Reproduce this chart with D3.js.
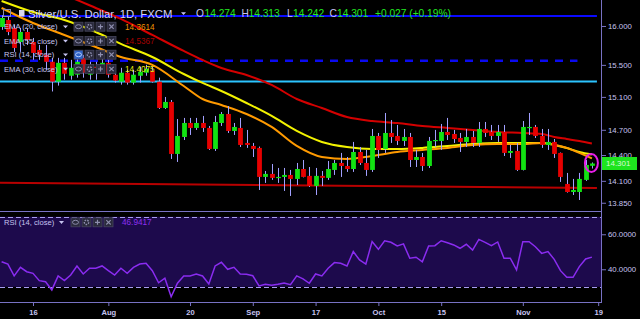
<!DOCTYPE html>
<html>
<head>
<meta charset="utf-8">
<script src="https://cdn.jsdelivr.net/npm/d3@7"></script>
<style>
  body { margin: 0; background: #000; }
  svg { display: block; }
  text { font-family: "Liberation Sans", Arial, sans-serif; }
</style>
</head>
<body>
<svg id="chart" width="640" height="319"></svg>
<script>
/* DATA (daily bars, 9 Jul 2018 - 16 Nov 2018) */
const opens = [15.987,16.078,15.974,15.792,15.922,15.792,15.690,15.627,15.539,15.289,
  15.526,15.363,15.376,15.589,15.376,15.476,15.463,15.526,15.376,15.289,
  15.401,15.277,15.363,15.401,15.426,15.289,14.964,15.038,14.413,14.614,
  14.782,14.722,14.782,14.722,14.472,14.782,14.891,14.686,14.722,14.543,
  14.507,14.484,14.145,14.180,14.134,14.145,14.168,14.122,14.237,14.157,
  14.041,14.157,14.134,14.226,14.307,14.272,14.237,14.436,14.307,14.226,
  14.626,14.472,14.662,14.626,14.567,14.614,14.342,14.377,14.272,14.567,
  14.567,14.674,14.650,14.602,14.555,14.614,14.543,14.710,14.674,14.626,
  14.674,14.425,14.448,14.226,14.722,14.734,14.626,14.519,14.555,14.425,
  14.064,13.972,13.972,14.111,14.274];
const highs = [16.140,16.120,16.010,15.974,15.970,15.844,15.754,15.754,15.589,15.589,
  15.589,15.564,15.589,15.627,15.539,15.539,15.627,15.564,15.438,15.463,
  15.438,15.438,15.476,15.501,15.476,15.339,15.099,15.062,14.830,14.843,
  14.843,14.843,14.867,14.746,14.867,14.915,14.988,14.782,14.843,14.698,
  14.543,14.500,14.214,14.295,14.249,14.249,14.226,14.307,14.342,14.260,
  14.249,14.214,14.330,14.342,14.425,14.377,14.555,14.495,14.460,14.710,
  14.662,14.903,14.818,14.758,14.710,14.662,14.460,14.425,14.614,14.698,
  14.770,14.843,14.698,14.662,14.710,14.686,14.794,14.794,14.758,14.758,
  14.758,14.519,14.543,14.806,14.903,14.758,14.710,14.710,14.590,14.430,
  14.191,14.122,14.191,14.342,14.313];
const lows = [15.950,15.880,15.665,15.665,15.754,15.564,15.564,15.438,15.167,15.240,
  15.314,15.314,15.339,15.339,15.314,15.314,15.413,15.339,15.277,15.252,
  15.252,15.252,15.277,15.363,15.277,14.952,14.952,14.354,14.319,14.578,
  14.638,14.698,14.674,14.460,14.448,14.746,14.662,14.638,14.495,14.484,
  14.377,13.995,14.076,14.111,14.076,13.984,13.927,14.052,14.140,14.030,
  13.938,14.041,14.111,14.168,14.145,14.203,14.203,14.284,14.157,14.203,
  14.366,14.425,14.543,14.519,14.507,14.260,14.260,14.214,14.249,14.495,
  14.460,14.578,14.543,14.436,14.495,14.495,14.495,14.614,14.578,14.555,
  14.389,14.366,14.214,14.220,14.638,14.602,14.484,14.460,14.366,14.087,
  13.965,13.938,13.881,14.099,14.242];
const closes = [16.105,15.922,15.716,15.922,15.818,15.652,15.627,15.539,15.289,15.526,
  15.388,15.463,15.539,15.401,15.476,15.463,15.526,15.376,15.302,15.401,
  15.277,15.376,15.413,15.451,15.289,14.964,15.038,14.413,14.626,14.782,
  14.722,14.782,14.722,14.472,14.794,14.891,14.686,14.734,14.519,14.519,
  14.472,14.145,14.180,14.134,14.145,14.168,14.122,14.237,14.145,14.041,
  14.157,14.134,14.237,14.307,14.272,14.237,14.436,14.307,14.226,14.626,
  14.460,14.662,14.614,14.567,14.614,14.342,14.377,14.272,14.567,14.578,
  14.674,14.638,14.590,14.555,14.614,14.543,14.710,14.662,14.626,14.674,
  14.425,14.448,14.226,14.734,14.734,14.626,14.519,14.555,14.413,14.145,
  13.972,13.995,14.122,14.284,14.301];

// EMA values read at these bar indexes
const emaIdx = [0,5,10,15,19,24,29,32,35,39,43,47,51,55,59,63,67,71,75,79,83,86,88,90,92,94];
const ema20 = [16.237,16.039,15.883,15.728,15.600,15.499,15.235,15.074,15.001,14.891,14.734,14.507,14.377,
  14.354,14.389,14.436,14.460,14.484,14.519,14.531,14.531,14.543,14.519,14.484,14.425,14.3614];
const ema30 = [16.330,16.184,16.078,15.922,15.767,15.600,15.385,15.273,15.173,15.025,14.867,14.686,14.555,
  14.495,14.472,14.472,14.484,14.507,14.531,14.543,14.543,14.543,14.519,14.484,14.436,14.4075];
const ema55 = [16.680,16.545,16.410,16.237,16.092,15.883,15.677,15.562,15.461,15.373,15.248,15.074,14.964,
  14.854,14.806,14.782,14.746,14.722,14.698,14.674,14.662,14.650,14.614,14.590,14.566,14.5367];

const rsi = [44.3,43.0,36.2,41.1,38.6,37.7,33.5,32.9,28.2,36.2,
  33.5,36.7,41.9,37.3,40.6,40.6,41.9,39.2,36.7,40.6,
  37.7,41.1,43.0,43.4,39.2,32.3,34.9,24.3,32.0,36.2,
  36.2,37.3,36.2,31.6,41.9,44.0,40.0,41.1,37.3,37.1,
  36.3,30.5,31.4,30.9,31.4,32.2,31.2,36.2,34.5,32.0,
  37.3,36.2,40.6,43.8,43.4,41.9,50.1,45.3,43.0,55.8,
  51.4,56.3,55.4,53.3,54.5,46.3,46.9,44.3,53.3,53.5,
  56.3,55.2,53.9,52.0,54.3,51.0,57.1,55.4,53.5,55.6,
  46.3,46.3,39.6,55.8,55.8,52.9,49.1,50.1,45.7,39.2,
  35.4,35.4,41.5,45.9,46.9417];

// drawn levels: [price, last bar index]
const blueLevel = [16.131, 94.8];
const dashedLevel = [15.553, 91.7];
const cyanLevel = [15.291, 94.8];
const trendFrom = [-0.26, 14.079], trendTo = [94.8, 14.017];

const priceTicks = [16.0, 15.5, 15.1, 14.7, 14.4, 14.1, 13.85];
const rsiTicks = [60, 40];
const rsiBand = [70, 30];
const tickIdx = [5, 17, 30, 40, 50, 60, 70, 83, 95];
const tickLabels = ["16", "Aug", "20", "Sep", "17", "Oct", "15", "Nov", "19"];

/* LAYOUT */
const plotRight = 601, paneSplit = 211, rsiBottom = 302;
const axisColor = "#7872c4", labelColor = "#c6c4f0";
const upColor = "#12e212", downColor = "#e60000", wickColor = "#a2a0ff";

const svg = d3.select("#chart");
svg.append("rect").attr("width", 640).attr("height", 319).attr("fill", "#000");

const x = d3.scaleLinear().domain([-0.255, 95.45]).range([0, plotRight]);
const y = d3.scaleLog().domain([13.757, 16.343]).range([paneSplit, 0]);
const yR = d3.scaleLinear().domain([21.3, 73.3]).range([rsiBottom, paneSplit]);

const candles = opens.map((o, i) => ({ i, o, h: highs[i], l: lows[i], c: closes[i] }));

svg.append("defs").append("clipPath").attr("id", "priceClip")
  .append("rect").attr("x", 0).attr("y", 0).attr("width", plotRight).attr("height", paneSplit);

/* RSI PANE */
svg.append("rect")
  .attr("x", 0).attr("width", plotRight)
  .attr("y", yR(rsiBand[0])).attr("height", yR(rsiBand[1]) - yR(rsiBand[0]))
  .attr("fill", "#1d0a4c");

svg.selectAll("line.band")
  .data(rsiBand)
  .join("line")
  .attr("class", "band")
  .attr("x1", 0).attr("x2", plotRight)
  .attr("y1", d => Math.round(yR(d)) + 0.5).attr("y2", d => Math.round(yR(d)) + 0.5)
  .attr("stroke", "#a89cf2").attr("stroke-width", 1).attr("stroke-dasharray", "5,3");

const rsiLine = d3.line().x((d, i) => x(i)).y(d => yR(d));
svg.append("path")
  .attr("d", rsiLine(rsi))
  .attr("fill", "none").attr("stroke", "#8a2cf0").attr("stroke-width", 1.5);

/* PRICE PANE */
const price = svg.append("g").attr("clip-path", "url(#priceClip)");

// horizontal levels
price.append("line")
  .attr("x1", 0).attr("x2", x(blueLevel[1]))
  .attr("y1", y(blueLevel[0])).attr("y2", y(blueLevel[0]))
  .attr("stroke", "#0a0aff").attr("stroke-width", 2.2);
price.append("line")
  .attr("x1", 0).attr("x2", x(dashedLevel[1]))
  .attr("y1", y(dashedLevel[0])).attr("y2", y(dashedLevel[0]))
  .attr("stroke", "#0a0af0").attr("stroke-width", 2.5).attr("stroke-dasharray", "8,7");
price.append("line")
  .attr("x1", 0).attr("x2", x(cyanLevel[1]))
  .attr("y1", y(cyanLevel[0])).attr("y2", y(cyanLevel[0]))
  .attr("stroke", "#2cc4ff").attr("stroke-width", 2);
price.append("line")
  .attr("x1", x(trendFrom[0])).attr("x2", x(trendTo[0]))
  .attr("y1", y(trendFrom[1])).attr("y2", y(trendTo[1]))
  .attr("stroke", "#b80000").attr("stroke-width", 2);

// EMA lines
const emaLine = d3.line()
  .x(d => x(d[0]))
  .y(d => y(d[1]))
  .curve(d3.curveMonotoneX);
const emaSets = [
  { vals: ema55, color: "#d40000" },
  { vals: ema30, color: "#f2f200" },
  { vals: ema20, color: "#ff9a00" }
];
price.selectAll("path.ema")
  .data(emaSets)
  .join("path")
  .attr("class", "ema")
  .attr("d", d => emaLine(emaIdx.map((k, j) => [k, d.vals[j]])))
  .attr("fill", "none")
  .attr("stroke", d => d.color)
  .attr("stroke-width", 2);

// candles
const bw = 4.8;
const cg = price.selectAll("g.candle")
  .data(candles)
  .join("g")
  .attr("class", "candle");

cg.append("line")
  .attr("x1", d => Math.round(x(d.i)) + 0.5).attr("x2", d => Math.round(x(d.i)) + 0.5)
  .attr("y1", d => y(d.h)).attr("y2", d => y(d.l))
  .attr("stroke", wickColor).attr("stroke-width", 1);

cg.append("rect")
  .attr("x", d => Math.round(x(d.i)) + 0.5 - bw / 2)
  .attr("width", bw)
  .attr("y", d => y(Math.max(d.o, d.c)))
  .attr("height", d => Math.max(1.2, Math.abs(y(d.o) - y(d.c))))
  .attr("fill", d => d.c >= d.o ? upColor : downColor);

// highlight ring on last bar
const last = candles[candles.length - 1];
price.append("ellipse")
  .attr("cx", x(last.i) - 0.5).attr("cy", y(last.c) - 0.5)
  .attr("rx", 6.5).attr("ry", 9)
  .attr("fill", "none").attr("stroke", "#e81ee8").attr("stroke-width", 2);

/* FRAME AND AXES */
svg.append("line").attr("x1", 0).attr("x2", plotRight).attr("y1", paneSplit + 0.5).attr("y2", paneSplit + 0.5)
  .attr("stroke", axisColor);
svg.append("line").attr("x1", 0).attr("x2", plotRight).attr("y1", rsiBottom + 0.5).attr("y2", rsiBottom + 0.5)
  .attr("stroke", axisColor);
svg.append("line").attr("x1", plotRight + 0.5).attr("x2", plotRight + 0.5).attr("y1", 0).attr("y2", rsiBottom + 1)
  .attr("stroke", axisColor);

function styleAxis(g) {
  g.select(".domain").remove();
  g.selectAll(".tick line").attr("stroke", axisColor);
  g.selectAll(".tick text").attr("fill", labelColor).attr("font-size", 7.8);
}

const yAxis = d3.axisRight(y).tickValues(priceTicks).tickFormat(d3.format(".3f")).tickSize(4).tickPadding(2);
svg.append("g").attr("transform", `translate(${plotRight + 1},0)`).call(yAxis).call(styleAxis);

const rAxis = d3.axisRight(yR).tickValues(rsiTicks).tickFormat(d3.format(".4f")).tickSize(4).tickPadding(2);
svg.append("g").attr("transform", `translate(${plotRight + 1},0)`).call(rAxis).call(styleAxis);

const xAxis = d3.axisBottom(x).tickValues(tickIdx).tickFormat((d, k) => tickLabels[k]).tickSize(3).tickPadding(4);
svg.append("g").attr("transform", `translate(0,${rsiBottom + 1})`).call(xAxis).call(styleAxis)
  .selectAll(".tick text").attr("font-weight", "bold").attr("font-size", 7.6);

// last price box
svg.append("rect").attr("x", plotRight + 1).attr("y", y(last.c) - 6.5).attr("width", 35).attr("height", 13)
  .attr("fill", "#1ee41e");
svg.append("text").attr("x", plotRight + 5).attr("y", y(last.c) + 3)
  .attr("fill", "#d8f8d8").attr("font-size", 8).text(d3.format(".3f")(last.c));

/* LEGEND */
function caret(g, cx, cy) {
  g.append("path").attr("d", `M${cx - 2.5},${cy - 1.2}L${cx + 2.5},${cy - 1.2}L${cx},${cy + 1.6}Z`).attr("fill", labelColor);
}
function icons(g, x0, cy, blue) {
  for (let k = 0; k < 4; k++) {
    const bx = x0 + k * 11;
    g.append("rect").attr("x", bx).attr("y", cy - 4.5).attr("width", 9).attr("height", 9)
      .attr("fill", k === 0 && blue ? "#2d62c8" : "#2a2a3c").attr("stroke", "#46465e").attr("stroke-width", 0.8);
    const gx = bx + 4.5, col = "#8e8eae";
    if (k === 0) g.append("ellipse").attr("cx", gx).attr("cy", cy).attr("rx", 3).attr("ry", 2).attr("fill", "none").attr("stroke", blue ? "#b8d0ff" : col);
    if (k === 1) g.append("circle").attr("cx", gx).attr("cy", cy).attr("r", 2.2).attr("fill", "none").attr("stroke", col).attr("stroke-width", 1.4).attr("stroke-dasharray", "1.5,1");
    if (k === 2) g.append("path").attr("d", `M${gx - 2.5},${cy}H${gx + 2.5}M${gx},${cy - 2.5}V${cy + 2.5}`).attr("stroke", col).attr("stroke-width", 1.2);
    if (k === 3) g.append("path").attr("d", `M${gx - 2.2},${cy - 2.2}L${gx + 2.2},${cy + 2.2}M${gx + 2.2},${cy - 2.2}L${gx - 2.2},${cy + 2.2}`).attr("stroke", col).attr("stroke-width", 1.1);
  }
}

const leg = svg.append("g");
// title row
leg.append("rect").attr("x", 3.5).attr("y", 9.5).attr("width", 7).attr("height", 7).attr("fill", "none").attr("stroke", "#8c8cb0");
leg.append("rect").attr("x", 19).attr("y", 10).attr("width", 5.5).attr("height", 6.5).attr("fill", "#d8d8f0");
leg.append("text").attr("x", 28).attr("y", 17.5).attr("fill", "#d4d2f4").attr("font-size", 11.3)
  .text("Silver/U.S. Dollar, 1D, FXCM");
caret(leg, 183.5, 13.5);

const green = "#22e822";
const ohlcParts = [
  { t: "O", x: 196, c: labelColor }, { t: opens[94].toFixed(3), x: 204.5, c: green },
  { t: "H", x: 241.5, c: labelColor }, { t: highs[94].toFixed(3), x: 248.5, c: green },
  { t: "L", x: 287, c: labelColor }, { t: lows[94].toFixed(3), x: 293, c: green },
  { t: "C", x: 329.5, c: labelColor }, { t: closes[94].toFixed(3), x: 337, c: green },
  { t: "+0.027 (+0.19%)", x: 375, c: green }
];
leg.selectAll("text.ohlc")
  .data(ohlcParts)
  .join("text")
  .attr("class", "ohlc")
  .attr("x", d => d.x).attr("y", 17.3)
  .attr("font-size", 10.2).attr("fill", d => d.c)
  .text(d => d.t);

const studies = [
  { name: "EMA (20, close)", cy: 26.7, val: ema20[ema20.length - 1].toFixed(4), col: "#f39400", blue: false },
  { name: "EMA (55, close)", cy: 41, val: ema55[ema55.length - 1].toFixed(4), col: "#a40000", blue: false },
  { name: "RSI (14, close)", cy: 54.7, val: null, col: null, blue: true },
  { name: "EMA (30, close)", cy: 69, val: ema30[ema30.length - 1].toFixed(4), col: "#ecec10", blue: false }
];
studies.forEach(s => {
  leg.append("text").attr("x", 4).attr("y", s.cy + 2.7).attr("fill", labelColor).attr("font-size", 7.6).text(s.name);
  caret(leg, 65.5, s.cy);
  icons(leg, 74, s.cy, s.blue);
  if (s.val) leg.append("text").attr("x", 125).attr("y", s.cy + 3).attr("fill", s.col).attr("font-size", 8.2).text(s.val);
});

// RSI pane legend
const rcy = 222.3;
leg.append("text").attr("x", 4).attr("y", rcy + 2.7).attr("fill", labelColor).attr("font-size", 7.6).text("RSI (14, close)");
caret(leg, 61.5, rcy);
icons(leg, 71, rcy, false);
leg.append("text").attr("x", 122).attr("y", rcy + 3).attr("fill", "#8c30f0").attr("font-size", 8.2)
  .text(rsi[rsi.length - 1].toFixed(4));
</script>
</body>
</html>
